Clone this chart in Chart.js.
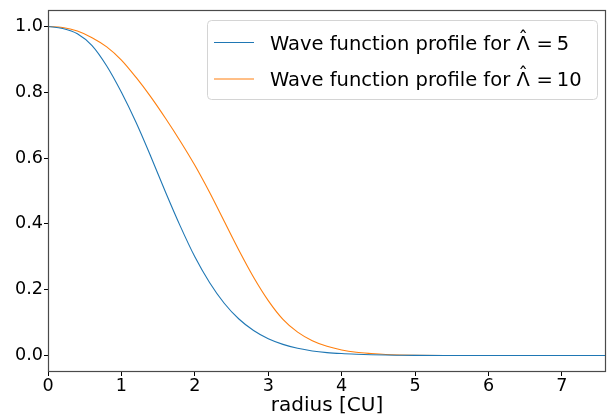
<!DOCTYPE html>
<html>
<head>
<meta charset="utf-8">
<script src="https://cdn.jsdelivr.net/npm/chart.js@4"></script>
<style>
  html, body { margin: 0; padding: 0; background: #fff; }
  #wrap { width: 608px; height: 418px; }
</style>
</head>
<body>
<div id="wrap"><canvas id="waveChart" width="608" height="418"></canvas></div>
<script>
// radius values (CU) the curves are read at
const radius = [0, 0.2, 0.4, 0.6, 0.8, 1.0, 1.2, 1.4, 1.6, 1.8, 2.0, 2.2, 2.4, 2.6, 2.8, 3.0,
                3.2, 3.4, 3.6, 3.8, 4.0, 4.2, 4.4, 4.6, 4.8, 5.0, 5.5, 6.0, 7.6];
const lambda5 = [1.0, 0.994, 0.978, 0.942, 0.88, 0.80, 0.708, 0.605, 0.497, 0.394, 0.300, 0.222, 0.159, 0.111, 0.076, 0.051,
                 0.034, 0.022, 0.014, 0.009, 0.006, 0.004, 0.0025, 0.0015, 0.001, 0.0006, 0.0002, 0, 0];
const lambda10 = [1.0, 0.997, 0.986, 0.966, 0.938, 0.898, 0.845, 0.786, 0.721, 0.652, 0.578, 0.496, 0.408, 0.320, 0.238, 0.167,
                  0.110, 0.071, 0.045, 0.028, 0.017, 0.010, 0.006, 0.003, 0.0015, 0.0007, 0.0002, 0, 0];
const labels = ['Wave function profile for \u039B\u0302 = 5', 'Wave function profile for \u039B\u0302 = 10'];
const xTicks = [0, 1, 2, 3, 4, 5, 6, 7];
const yTicks = [0.0, 0.2, 0.4, 0.6, 0.8, 1.0];

const FONT = 'DejaVu Sans';

function toPoints(ys) { return radius.map((r, i) => ({ x: r, y: ys[i] })); }

// frame round the plot area, like matplotlib spines
const framePlugin = {
    id: 'frame',
    afterDraw(chart) {
        const { ctx, chartArea: a } = chart;
        ctx.save();
        ctx.strokeStyle = '#4a4a4a';
        ctx.lineWidth = 1.2;
        ctx.strokeRect(a.left + 0.5, a.top + 0.5, a.right - a.left - 1, a.bottom - a.top - 1);
        ctx.restore();
    }
};

// legend box drawn inside the plot, top right; the hat over Lambda is placed by hand
const legendPlugin = {
    id: 'boxLegend',
    afterDraw(chart) {
        const ctx = chart.ctx;
        const box = { x: 207, y: 20, w: 390, h: 79 };
        ctx.save();
        ctx.beginPath();
        ctx.roundRect(box.x + 0.5, box.y + 0.5, box.w, box.h, 4);
        ctx.fillStyle = 'rgba(255,255,255,0.8)';
        ctx.fill();
        ctx.strokeStyle = '#d4d4d4';
        ctx.lineWidth = 1;
        ctx.stroke();
        ctx.font = '19.5px "' + FONT + '"';
        ctx.textBaseline = 'alphabetic';
        chart.data.datasets.forEach((ds, i) => {
            const y = 42.5 + i * 36.5;
            ctx.strokeStyle = ds.borderColor;
            ctx.lineWidth = 1;
            ctx.beginPath();
            ctx.moveTo(214, y);
            ctx.lineTo(254, y);
            ctx.stroke();
            ctx.fillStyle = '#000';
            const base = y + 7;
            const parts = ds.label.split('\u0302');        // ['... for Λ', ' = 5']
            const head = parts[0];
            ctx.fillText(head, 270, base);
            const headW = ctx.measureText(head).width;
            const lamW = ctx.measureText('\u039B').width;
            // hat centred over Lambda
            ctx.save();
            ctx.textAlign = 'center';
            ctx.fillText('\u02C6', 270 + headW - lamW / 2, base - 5);
            ctx.restore();
            ctx.fillText(parts[1].replace(' = ', '\u2009=\u2009'), 270 + headW + 3, base);
        });
        ctx.restore();
    }
};

function initChart() {
    const ctx = document.getElementById('waveChart').getContext('2d');
    new Chart(ctx, {
        type: 'line',
        data: {
            datasets: [
                { label: labels[0], data: toPoints(lambda5), borderColor: '#1f77b4', borderWidth: 1.1,
                  pointRadius: 0, cubicInterpolationMode: 'monotone', fill: false },
                { label: labels[1], data: toPoints(lambda10), borderColor: '#ff7f0e', borderWidth: 1.1,
                  pointRadius: 0, cubicInterpolationMode: 'monotone', fill: false }
            ]
        },
        options: {
            responsive: false,
            animation: false,
            layout: { padding: { top: 10, right: 2, left: 0, bottom: 0 } },
            plugins: { legend: { display: false }, tooltip: { enabled: false } },
            scales: {
                x: {
                    type: 'linear', min: 0, max: 7.6,
                    afterBuildTicks: s => { s.ticks = xTicks.map(v => ({ value: v })); },
                    afterFit: s => { s.height = 46; s.paddingLeft = 0; s.paddingRight = 0; },
                    grid: { drawOnChartArea: false, drawTicks: true, tickLength: 4, color: '#000' },
                    border: { display: false },
                    ticks: { color: '#000', font: { family: FONT, size: 17.6 }, padding: 0, maxRotation: 0,
                             callback: v => String(v) },
                    title: { display: true, text: 'radius [CU]', color: '#000',
                             font: { family: FONT, size: 20 }, padding: { top: -2, bottom: 0 } }
                },
                y: {
                    type: 'linear', min: -0.05, max: 1.05,
                    afterBuildTicks: s => { s.ticks = yTicks.map(v => ({ value: v })); },
                    afterFit: s => { s.width = 48; s.paddingTop = 0; s.paddingBottom = 0; },
                    grid: { drawOnChartArea: false, drawTicks: true, tickLength: 4, color: '#000' },
                    border: { display: false },
                    ticks: { color: '#000', font: { family: FONT, size: 17.6 }, padding: 1,
                             callback: v => v.toFixed(1) }
                }
            }
        },
        plugins: [framePlugin, legendPlugin]
    });
}

window.onload = initChart;
</script>
</body>
</html>
